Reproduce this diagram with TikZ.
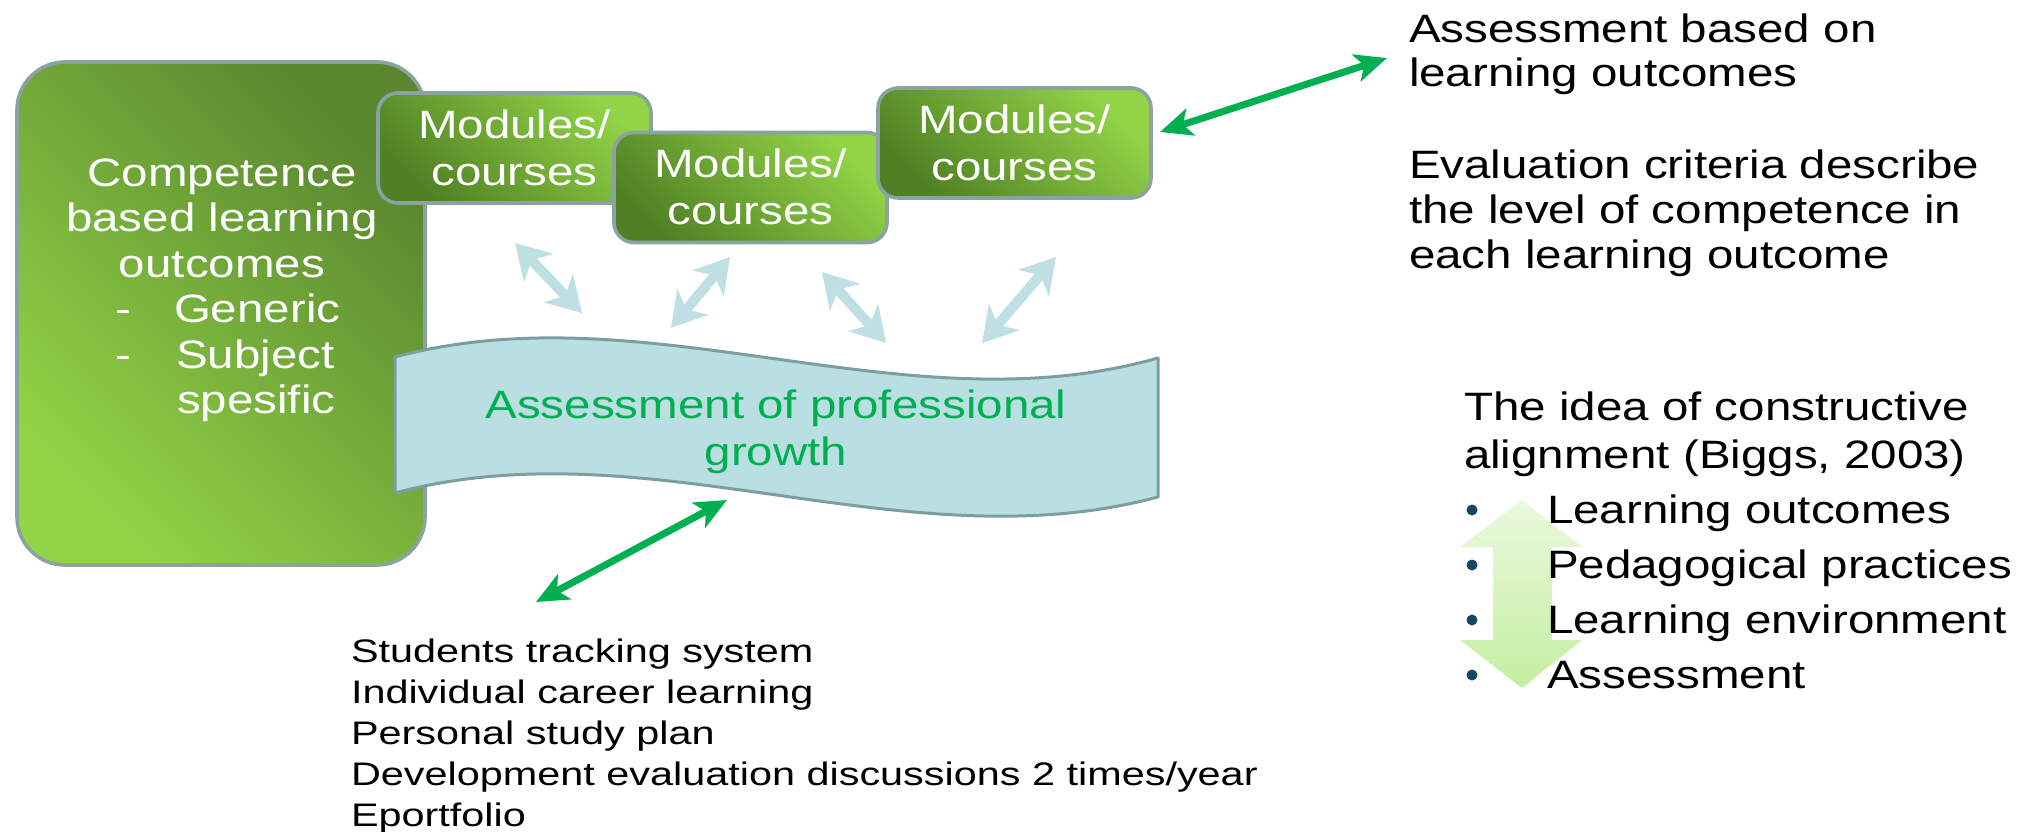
\documentclass[tikz,border=0pt]{standalone}
\usepackage{fontspec}
\newfontfamily\fa[FakeStretch=1.2]{Liberation Sans}
\newfontfamily\fb[FakeStretch=1.27]{Liberation Sans}
\usetikzlibrary{arrows.meta}
\definecolor{gdark}{RGB}{80,128,36}
\definecolor{glight}{RGB}{146,212,70}
\definecolor{bord}{RGB}{138,162,162}
\definecolor{banfill}{RGB}{185,223,226}
\definecolor{banbord}{RGB}{125,158,160}
\definecolor{txtgreen}{RGB}{0,176,80}
\definecolor{lightarr}{RGB}{190,224,228}
\definecolor{bulletc}{RGB}{23,70,100}
\definecolor{arrtop}{RGB}{234,249,222}
\definecolor{arrbot}{RGB}{196,238,160}
\begin{document}
\begin{tikzpicture}[x=0.5pt,y=-0.5pt,
  lbl/.style={inner sep=0pt, outer sep=0pt},
  bigtxt/.style={lbl, font=\fa\fontsize{19.8}{22}\selectfont},
  wtxt/.style={bigtxt, text=white},
  ktxt/.style={bigtxt, text=black, anchor=base west},
  btxt/.style={lbl, font=\fb\fontsize{16.3}{20}\selectfont, anchor=base west},
  modbox/.style={draw=bord, line width=1.8pt, rounded corners=10pt,
    top color=glight, bottom color=gdark, shading angle=-45,
    minimum width=136.5pt, minimum height=55pt, inner sep=0pt},
  bigbox/.style={draw=bord, line width=1.8pt, rounded corners=24pt,
    top color=gdark!95!white, bottom color=glight, shading angle=-45,
    minimum width=204pt, minimum height=251.5pt, inner sep=0pt},
  lightarrow/.style={draw=lightarr, line width=5pt,
    {Stealth[length=17pt,width=20pt,inset=5pt]}-{Stealth[length=17pt,width=20pt,inset=5pt]}},
  greenarrow/.style={draw=txtgreen, line width=3.5pt,
    {Stealth[length=16pt,width=14pt,inset=4pt]}-{Stealth[length=16pt,width=14pt,inset=4pt]}},
  bul/.style={circle, fill=bulletc, minimum size=5.5pt, inner sep=0pt}
]
\useasboundingbox (0,0) rectangle (2024,831);
\fill[white] (0,0) rectangle (2024,831);

% big box
\node[bigbox] (big) at (221,313.5) {};
\node[wtxt, anchor=base] (c1) at (222,186) {Competence};
\node[wtxt, anchor=base] (c2) at (222,231) {based learning};
\node[wtxt, anchor=base] (c3) at (222,277) {outcomes};
\node[wtxt, anchor=base west] (d1) at (115,322) {-};
\node[wtxt, anchor=base west] (c4) at (174,322) {Generic};
\node[wtxt, anchor=base west] (d2) at (115,368) {-};
\node[wtxt, anchor=base west] (c5) at (176,368) {Subject};
\node[wtxt, anchor=base west] (c6) at (177,413) {spesific};

% modules
\node[modbox] (m1) at (514.5,148) {};
\node[wtxt, anchor=base] (m1a) at (514.5,138) {Modules/};
\node[wtxt, anchor=base] (m1b) at (514.5,185) {courses};
\node[modbox] (m2) at (750.5,187.5) {};
\node[wtxt, anchor=base] (m2a) at (750.5,177) {Modules/};
\node[wtxt, anchor=base] (m2b) at (750.5,224) {courses};
\node[modbox] (m3) at (1014.5,143) {};
\node[wtxt, anchor=base] (m3a) at (1014.5,133) {Modules/};
\node[wtxt, anchor=base] (m3b) at (1014.5,180) {courses};

% banner
\draw[fill=banfill, draw=banbord, line width=1.5pt, line join=round]
  (395,357) .. controls (649,289) and (904,430) .. (1158,358)
  -- (1158,497) .. controls (904,565) and (649,425) .. (395,493) -- cycle;
\node[bigtxt, text=txtgreen, anchor=base] (ban1) at (776,418) {Assessment of professional};
\node[bigtxt, text=txtgreen, anchor=base] (ban2) at (776,465) {growth};

% light arrows
\coordinate (la1a) at (515,243); \coordinate (la1b) at (582,313);
\coordinate (la2a) at (730,257); \coordinate (la2b) at (671,328);
\coordinate (la3a) at (822,272); \coordinate (la3b) at (886,343);
\coordinate (la4a) at (1056,257); \coordinate (la4b) at (982,343);
\draw[lightarrow] (la1a) -- (la1b);
\draw[lightarrow] (la2a) -- (la2b);
\draw[lightarrow] (la3a) -- (la3b);
\draw[lightarrow] (la4a) -- (la4b);

% green arrows
\coordinate (ga1a) at (1160,132); \coordinate (ga1b) at (1387,58);
\coordinate (ga2a) at (727,500); \coordinate (ga2b) at (536,602);
\draw[greenarrow] (ga1a) -- (ga1b);
\draw[greenarrow] (ga2a) -- (ga2b);

% top right text
\node[ktxt] (t1) at (1409,42) {Assessment based on};
\node[ktxt] (t2) at (1409,86) {learning outcomes};
\node[ktxt] (t3) at (1409,178) {Evaluation criteria describe};
\node[ktxt] (t4) at (1409,223) {the level of competence in};
\node[ktxt] (t5) at (1409,268) {each learning outcome};

% constructive alignment
\path[top color=arrtop, bottom color=arrbot]
  (1522,500) -- (1582,547) -- (1552,547) -- (1552,640) -- (1582,640)
  -- (1522,688) -- (1460,640) -- (1493,640) -- (1493,547) -- (1460,547) -- cycle;
\node[ktxt] (r1) at (1464,420) {The idea of constructive};
\node[ktxt] (r2) at (1464,468) {alignment (Biggs, 2003)};
\node[bul] (b1) at (1472,510) {};
\node[bul] (b2) at (1472,565) {};
\node[bul] (b3) at (1472,620) {};
\node[bul] (b4) at (1472,675) {};
\node[ktxt] (i1) at (1547,523) {Learning outcomes};
\node[ktxt] (i2) at (1547,578) {Pedagogical practices};
\node[ktxt] (i3) at (1547,633) {Learning environment};
\node[ktxt] (i4) at (1547,688) {Assessment};

% bottom list
\node[btxt] (s1) at (351,662) {Students tracking system};
\node[btxt] (s2) at (351,703) {Individual career learning};
\node[btxt] (s3) at (351,744) {Personal study plan};
\node[btxt] (s4) at (351,785) {Development evaluation discussions 2 times/year};
\node[btxt] (s5) at (351,826) {Eportfolio};
\end{tikzpicture}
\end{document}
